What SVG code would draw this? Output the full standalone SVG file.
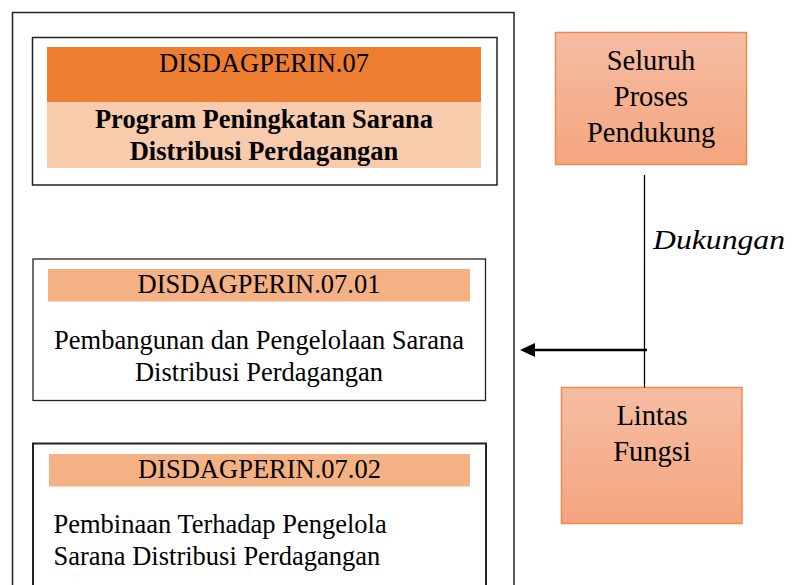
<svg xmlns="http://www.w3.org/2000/svg" width="793" height="585" viewBox="0 0 793 585" font-family="'Liberation Serif', 'Times New Roman', Times, serif">
  <style>
    text { font-family: "Liberation Serif", "Times New Roman", Times, serif; fill: #000; }
    .c { text-anchor: middle; }
    .box { fill: #fff; stroke: #222; }
    .side { fill: url(#sideFill); stroke: #F28A4E; stroke-width: 1.5; }
  </style>
  <defs>
    <linearGradient id="sideFill" x1="0" y1="0" x2="0" y2="1">
      <stop offset="0" stop-color="#F6BDA3"/>
      <stop offset="1" stop-color="#F4A57F"/>
    </linearGradient>
    <marker id="arrowHead" markerWidth="15" markerHeight="14" refX="0" refY="7" orient="auto" markerUnits="userSpaceOnUse" viewBox="0 0 15 14">
      <path d="M0,0 L15,7 L0,14 Z" fill="#000"/>
    </marker>
  </defs>
  <rect width="793" height="585" fill="#fff"/>

  <!-- program frame -->
  <rect class="box" x="12.5" y="12.5" width="501.5" height="590" stroke-width="1.5"/>

  <g id="program">
    <rect class="box" x="32.5" y="37.5" width="464.5" height="147.5" stroke-width="1.5"/>
    <rect x="47" y="47" width="434" height="55" fill="#ED7D31"/>
    <rect x="47" y="102" width="434" height="66" fill="#F8CBAD"/>
    <text class="c" x="264" y="72" font-size="26.5">DISDAGPERIN.07</text>
    <text class="c" x="264" y="127.5" font-size="26.5" font-weight="bold">Program Peningkatan Sarana</text>
    <text class="c" x="264" y="159.5" font-size="26.5" font-weight="bold">Distribusi Perdagangan</text>
  </g>

  <g id="activity-0701">
    <rect class="box" x="33" y="259" width="452.5" height="141.5" stroke-width="1.3"/>
    <rect x="48" y="269" width="422" height="32.5" fill="#F4B183"/>
    <text class="c" x="259" y="292.5" font-size="26.5">DISDAGPERIN.07.01</text>
    <text class="c" x="259" y="348.5" font-size="26.5">Pembangunan dan Pengelolaan Sarana</text>
    <text class="c" x="259" y="380.5" font-size="26.5">Distribusi Perdagangan</text>
  </g>

  <g id="activity-0702">
    <rect class="box" x="33" y="443.5" width="453" height="160" stroke-width="2"/>
    <rect x="49" y="454" width="421" height="32.5" fill="#F4B183"/>
    <text class="c" x="259.5" y="477.5" font-size="26.5">DISDAGPERIN.07.02</text>
    <text x="53.5" y="532.5" font-size="26.5">Pembinaan Terhadap Pengelola</text>
    <text x="53.5" y="565" font-size="26.5">Sarana Distribusi Perdagangan</text>
  </g>

  <g id="seluruh-proses">
    <rect class="side" x="555.5" y="32.5" width="191" height="132"/>
    <text class="c" x="651" y="70" font-size="28.5">Seluruh</text>
    <text class="c" x="651" y="105.5" font-size="28.5">Proses</text>
    <text class="c" x="651" y="142" font-size="28.5">Pendukung</text>
  </g>

  <g id="lintas-fungsi">
    <rect class="side" x="561.5" y="387.5" width="180.5" height="136"/>
    <text class="c" x="652" y="425" font-size="28.5">Lintas</text>
    <text class="c" x="652" y="461" font-size="28.5">Fungsi</text>
  </g>

  <g id="connectors">
    <line x1="644.5" y1="175" x2="644.5" y2="387.5" stroke="#000" stroke-width="1.3"/>
    <line x1="647" y1="350" x2="535" y2="350" stroke="#000" stroke-width="2.5" marker-end="url(#arrowHead)"/>
    <text x="653" y="249" font-size="28" font-style="italic" textLength="132" lengthAdjust="spacingAndGlyphs">Dukungan</text>
  </g>
</svg>
